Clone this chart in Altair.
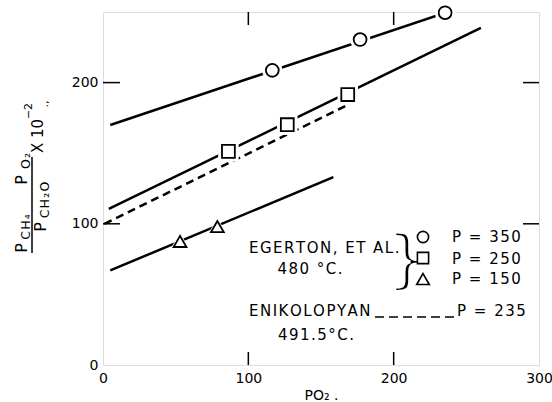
import altair as alt
import pandas as pd

FONT = "DejaVu Sans"

# Egerton et al., 480 °C: fitted lines (end points) and measured points
circle_line_x = [5, 240]
circle_line_y = [170, 251]
circle_x = [116.5, 176.9, 235.4]
circle_y = [208.7, 230.5, 249.5]

square_line_x = [4, 260]
square_line_y = [110.5, 238.7]
square_x = [86.3, 126.8, 168.4]
square_y = [151.3, 170.2, 191.5]

triangle_line_x = [5, 158.5]
triangle_line_y = [67, 133]
triangle_x = [53, 78.7]
triangle_y = [87.5, 98]

# Enikolopyan, 491.5 °C
dashed_x = [1, 167]
dashed_y = [100, 183.5]

x_labels = [0, 100, 200, 300]
y_labels = [0, 100, 200]
x_minor = [100, 200]
y_minor = [100, 200]

# plot-area geometry
W, H = 436, 353
LEFT, TOP = 103, 12

xs = alt.Scale(domain=[0, 300], nice=False, zero=False)
ys = alt.Scale(domain=[0, 250], nice=False, zero=False)

lines = pd.DataFrame({
    "x": circle_line_x + square_line_x + triangle_line_x,
    "y": circle_line_y + square_line_y + triangle_line_y,
    "s": ["c"] * 2 + ["s"] * 2 + ["t"] * 2,
})
dashed = pd.DataFrame({"x": dashed_x, "y": dashed_y})
pts = pd.DataFrame({
    "x": circle_x + square_x + triangle_x,
    "y": circle_y + square_y + triangle_y,
    "shape": ["circle"] * 3 + ["square"] * 3 + ["triangle-up"] * 2,
})

X = alt.X("x:Q", scale=xs, axis=alt.Axis(
    values=x_labels, ticks=False, domain=False, grid=False, labelFlush=False,
    labelPadding=6, labelFontSize=14, labelFont=FONT, labelColor="black",
    title="PO₂ .", titleFont=FONT, titleFontSize=14, titleFontWeight="normal",
    titleColor="black", titlePadding=3))
Y = alt.Y("y:Q", scale=ys, axis=alt.Axis(
    values=y_labels, ticks=False, domain=False, grid=False, labelFlush=False,
    labelPadding=5, labelFontSize=14, labelFont=FONT, labelColor="black",
    title=None))

line_layer = alt.Chart(lines).mark_line(color="black", strokeWidth=2.5, clip=True).encode(
    x=X, y=Y, detail="s:N")
dash_layer = alt.Chart(dashed).mark_line(color="black", strokeWidth=2.5, strokeDash=[8, 5], clip=True).encode(
    x=alt.X("x:Q", scale=xs), y=alt.Y("y:Q", scale=ys))

shape_scale = alt.Scale(domain=["circle", "square", "triangle-up"],
                        range=["circle", "square", "triangle-up"])
size_halo = alt.Scale(domain=["circle", "square", "triangle-up"], range=[420, 420, 520])
size_mark = alt.Scale(domain=["circle", "square", "triangle-up"], range=[165, 165, 235])

# white halo opens a small gap in each line around the symbols
halo = alt.Chart(pts).mark_point(filled=True, color="white", opacity=1).encode(
    x=alt.X("x:Q", scale=xs), y=alt.Y("y:Q", scale=ys),
    shape=alt.Shape("shape:N", scale=shape_scale, legend=None),
    size=alt.Size("shape:N", scale=size_halo, legend=None))
markers = alt.Chart(pts).mark_point(filled=False, color="black", opacity=1, strokeWidth=1.8).encode(
    x=alt.X("x:Q", scale=xs), y=alt.Y("y:Q", scale=ys),
    shape=alt.Shape("shape:N", scale=shape_scale, legend=None),
    size=alt.Size("shape:N", scale=size_mark, legend=None))
symbols = alt.layer(halo, markers).resolve_scale(size="independent")

# inward ticks on all four sides
tx = pd.DataFrame({"x": x_minor})
ty = pd.DataFrame({"y": y_minor})
tick_b = alt.Chart(tx).mark_rule(color="black", strokeWidth=1.5).encode(
    x=alt.X("x:Q", scale=xs), y=alt.value(H), y2=alt.value(H - 13))
tick_t = alt.Chart(tx).mark_rule(color="black", strokeWidth=1.5).encode(
    x=alt.X("x:Q", scale=xs), y=alt.value(0), y2=alt.value(13))
tick_l = alt.Chart(ty).mark_rule(color="black", strokeWidth=1.5).encode(
    y=alt.Y("y:Q", scale=ys), x=alt.value(0), x2=alt.value(17))
tick_r = alt.Chart(ty).mark_rule(color="black", strokeWidth=1.5).encode(
    y=alt.Y("y:Q", scale=ys), x=alt.value(W), x2=alt.value(W - 16))

one = pd.DataFrame({"k": [0]})


def spaced(s):
    # open letter spacing via hair spaces
    return "\u200a".join(s)


def txt(text, x, y, size=14, align="left", angle=0, **kw):
    return alt.Chart(one).mark_text(
        text=text, font=FONT, fontSize=size, align=align, baseline="middle",
        angle=angle, color="black", **kw
    ).encode(x=alt.value(x - LEFT), y=alt.value(y - TOP))


def rule(x1, y1, x2, y2, **kw):
    return alt.Chart(one).mark_rule(color="black", **kw).encode(
        x=alt.value(x1 - LEFT), x2=alt.value(x2 - LEFT),
        y=alt.value(y1 - TOP), y2=alt.value(y2 - TOP))


def sym(shape, x, y, size=125):
    return alt.Chart(one).mark_point(shape=shape, filled=False, color="black", opacity=1,
                                     size=size, strokeWidth=1.6).encode(
        x=alt.value(x - LEFT), y=alt.value(y - TOP))


annotations = [
    txt(spaced("EGERTON, ET AL."), 249, 248, size=15),
    txt(spaced("480 °C."), 310, 269, size=15, align="center"),
    txt("}", 407, 262, size=64, align="center", stroke="white", strokeWidth=3),
    sym("circle", 423, 237),
    sym("square", 423, 258),
    sym("triangle-up", 423, 279, size=160),
    txt(spaced("P = 350"), 452, 237, size=15),
    txt(spaced("P = 250"), 452, 259, size=15),
    txt(spaced("P = 150"), 452, 279, size=15),
    txt(spaced("ENIKOLOPYAN"), 249, 311, size=15),
    rule(375, 317, 455, 317, strokeWidth=1.5, strokeDash=[9, 5]),
    txt(spaced("P = 235"), 457, 311, size=15),
    txt(spaced("491.5°C."), 316, 335, size=15, align="center"),
]

# rotated y-axis title: (P_CH4 P_O2 / P_CH2O) x 10^-2
ytitle = [
    txt("P", 22, 248, size=16, angle=270, align="center"),
    txt(spaced("CH₄"), 26, 227, size=12.5, angle=270, align="center"),
    txt("P", 22, 180, size=16, angle=270, align="center"),
    txt(spaced("O₂"), 26, 161, size=12.5, angle=270, align="center"),
    rule(32, 157, 32, 253, strokeWidth=1.5),
    txt("P", 41, 227, size=16, angle=270, align="center"),
    txt(spaced("CH₂O"), 45, 200, size=12.5, angle=270, align="center"),
    txt("X 10", 38, 136, size=15, angle=270, align="center"),
    txt("−2", 29, 111, size=11, angle=270, align="center"),
    txt(".,", 45, 104, size=11, angle=270, align="center"),
]

chart = alt.layer(
    line_layer, dash_layer, symbols, tick_b, tick_t, tick_l, tick_r,
    *annotations, *ytitle
).resolve_scale(size="independent").properties(
    width=W, height=H,
    padding={"left": LEFT, "top": TOP, "right": 552 - LEFT - W, "bottom": 402 - TOP - H},
    autosize="none",
).configure_view(stroke="black", strokeWidth=2).configure(background="white")

chart.save("out.html", embed_options={"renderer": "svg", "actions": False})
